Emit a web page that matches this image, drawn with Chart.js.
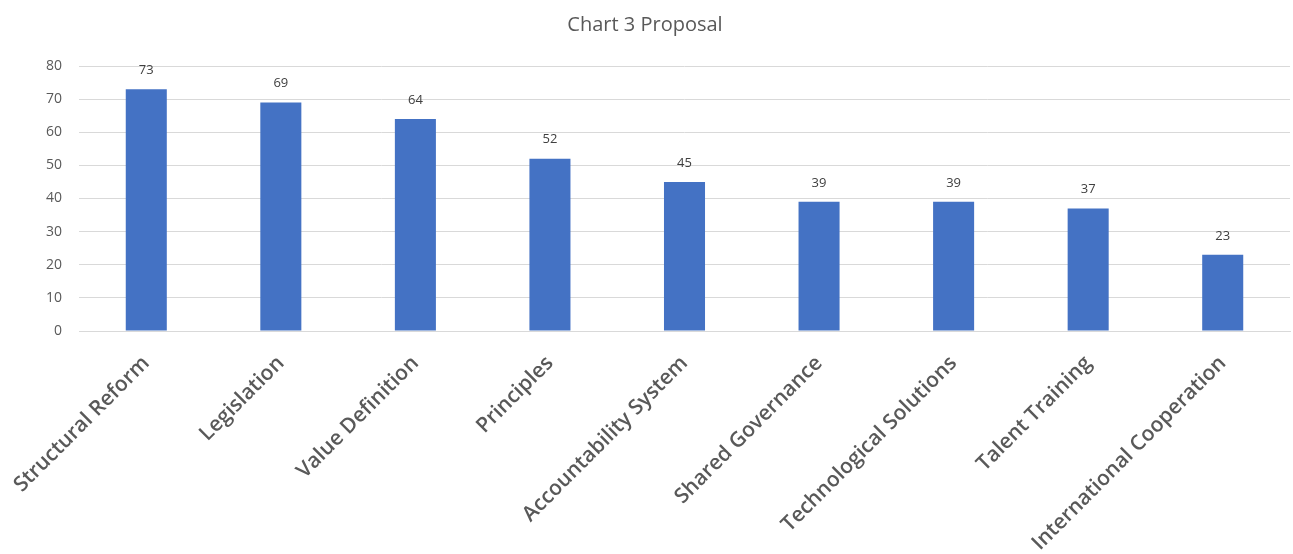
<!DOCTYPE html>
<html>
<head>
<meta charset="utf-8">
<script src="https://cdn.jsdelivr.net/npm/chart.js@4/dist/chart.umd.min.js"></script>
<style>
  html, body { margin: 0; padding: 0; background: #fff; }
  #wrap { width: 1293px; height: 554px; }
</style>
</head>
<body>
<div id="wrap"><canvas id="myChart"></canvas></div>
<script>
var categories = ['Structural Reform', 'Legislation', 'Value Definition', 'Principles',
  'Accountability System', 'Shared Governance', 'Technological Solutions',
  'Talent Training', 'International Cooperation'];
var proposalValues = [73, 69, 64, 52, 45, 39, 39, 37, 23];
var yTicks = [0, 10, 20, 30, 40, 50, 60, 70, 80];

// draws the number above each bar
var barLabels = {
  id: 'barLabels',
  afterDatasetsDraw: function (chart) {
    var ctx = chart.ctx;
    var meta = chart.getDatasetMeta(0);
    ctx.save();
    ctx.font = '13px "Open Sans"';
    ctx.fillStyle = '#404040';
    ctx.textAlign = 'center';
    ctx.textBaseline = 'middle';
    meta.data.forEach(function (bar, i) {
      ctx.fillText(chart.data.datasets[0].data[i], bar.x, bar.y - 19);
    });
    ctx.restore();
  }
};

var ctx = document.getElementById('myChart').getContext('2d');

var myChart = new Chart(ctx, {
  type: 'bar',
  data: {
    labels: categories,
    datasets: [{
      label: 'Proposal',
      data: proposalValues,
      backgroundColor: '#4472C4',
      barPercentage: 0.305,
      categoryPercentage: 1
    }]
  },
  options: {
    responsive: true,
    maintainAspectRatio: false,
    animation: false,
    layout: { padding: { top: 0, right: 3, bottom: 0, left: 0 } },
    plugins: {
      legend: { display: false },
      tooltip: { enabled: false },
      title: {
        display: true,
        text: 'Chart 3 Proposal',
        color: '#595959',
        font: { family: 'Open Sans', size: 20, weight: 'normal' },
        padding: { top: 13, bottom: 29 }
      }
    },
    scales: {
      x: {
        grid: { display: false },
        border: { color: '#d9d9d9' },
        ticks: {
          color: '#595959',
          font: { family: 'Open Sans', size: 21, weight: '600' },
          maxRotation: 45,
          minRotation: 45,
          autoSkip: false,
          padding: 12
        },
        afterFit: function (scale) { scale.height = 223; }
      },
      y: {
        min: 0,
        max: 80,
        border: { display: false },
        grid: { color: '#d9d9d9', drawTicks: false },
        ticks: {
          color: '#595959',
          font: { family: 'Open Sans', size: 14 },
          padding: 17,
          stepSize: 10,
          callback: function (v) { return yTicks.indexOf(v) >= 0 ? v : ''; }
        },
        afterFit: function (scale) { scale.width = 79; }
      }
    }
  },
  plugins: [barLabels]
});
</script>
</body>
</html>
